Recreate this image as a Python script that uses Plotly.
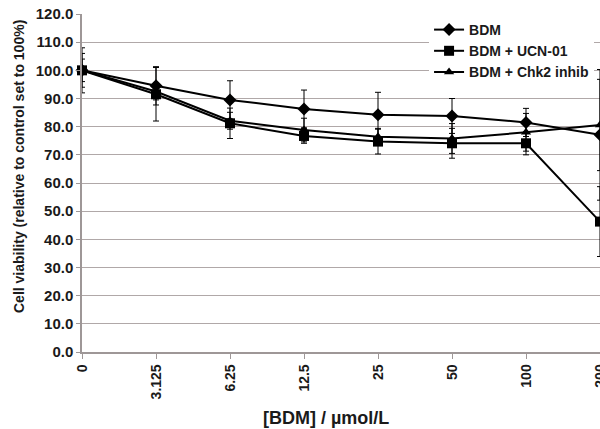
import plotly.graph_objects as go

concentrations = ["0", "3.125", "6.25", "12.5", "25", "50", "100", "200"]

bdm = [100.0, 94.5, 89.5, 86.3, 84.2, 83.8, 81.5, 77.1]
bdm_err = [8.0, 6.8, 6.8, 6.7, 8.0, 6.2, 5.0, 23.2]

ucn = [100.0, 91.5, 81.2, 76.7, 74.7, 74.1, 74.1, 46.3]
ucn_err = [6.0, 9.5, 5.4, 2.6, 4.4, 5.3, 4.1, 12.4]

chk2 = [100.0, 92.5, 82.1, 78.8, 76.4, 75.8, 78.0, 80.6]
chk2_err = [4.0, 3.0, 3.0, 4.2, 3.0, 5.3, 6.7, 16.2]

y_ticks = [0, 10, 20, 30, 40, 50, 60, 70, 80, 90, 100, 110, 120]

FONT = "Liberation Sans, Arial, sans-serif"
GRID = "#b0a8a8"
AXIS = "#9e9797"
TXT = "#1a1a1a"

fig = go.Figure()

series = [
    ("BDM", bdm, bdm_err, "diamond", 10),
    ("BDM + UCN-01", ucn, ucn_err, "square", 10),
    ("BDM + Chk2 inhib", chk2, chk2_err, "triangle-up", 9),
]
for name, vals, errs, sym, size in series:
    fig.add_trace(go.Scatter(
        x=concentrations, y=vals, name=name, mode="lines+markers",
        line=dict(color="black", width=2),
        marker=dict(symbol=sym, size=size, color="black"),
        error_y=dict(type="data", array=errs, visible=True, color="black",
                     thickness=1, width=3),
        cliponaxis=False,
    ))

fig.update_layout(
    width=600, height=429,
    margin=dict(l=82, r=0, t=14, b=77, autoexpand=False),
    paper_bgcolor="white", plot_bgcolor="white",
    font=dict(family=FONT, color=TXT, size=14),
    showlegend=True,
    legend=dict(x=0.67, y=1.0, xanchor="left", yanchor="top",
                bgcolor="white", borderwidth=0,
                font=dict(family=FONT, size=14, color=TXT, weight="bold"),
                tracegroupgap=0, itemsizing="trace"),
    xaxis=dict(type="category", range=[0, 7], tickangle=-90, automargin=False,
               showline=True, linecolor=AXIS, linewidth=1.5,
               ticks="outside", ticklen=5, tickcolor=AXIS,
               showgrid=False, zeroline=False,
               tickfont=dict(family=FONT, size=14, color=TXT, weight="bold")),
    yaxis=dict(range=[0, 120], tickvals=y_ticks, tickformat=".1f", automargin=False,
               showline=True, linecolor=AXIS, linewidth=1.5,
               ticks="outside", ticklen=4, tickcolor=AXIS,
               showgrid=True, gridcolor=GRID, gridwidth=1.3, zeroline=False,
               tickfont=dict(family=FONT, size=15, color=TXT, weight="bold")),
    annotations=[
        dict(text="[BDM] / µmol/L", xref="paper", yref="paper",
             x=(326 - 82) / 518, y=-(418 - 352) / 338, xanchor="center", yanchor="middle",
             showarrow=False, font=dict(family=FONT, size=18, color=TXT, weight="bold")),
        dict(text="Cell viability (relative to control set to 100%)", xref="paper", yref="paper",
             x=-(82 - 19) / 518, y=(352 - 167) / 338, xanchor="center", yanchor="middle",
             textangle=-90, showarrow=False,
             font=dict(family=FONT, size=14, color=TXT, weight="bold")),
    ],
)

fig.write_html("out.html")
